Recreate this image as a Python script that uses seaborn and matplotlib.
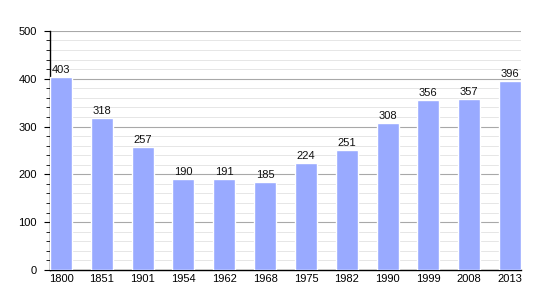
import matplotlib
matplotlib.use("Agg")
import matplotlib.pyplot as plt
import seaborn as sns
import pandas as pd
from matplotlib.ticker import MultipleLocator

years = ["1800", "1851", "1901", "1954", "1962", "1968", "1975", "1982", "1990", "1999", "2008", "2013"]
population = [403, 318, 257, 190, 191, 185, 224, 251, 308, 356, 357, 396]

sns.set_theme(style="white")
plt.rcParams['font.family'] = ['Liberation Sans', 'DejaVu Sans']

df = pd.DataFrame({"year": years, "pop": population})

fig = plt.figure(figsize=(5.5, 3.0), dpi=100)
ax = fig.add_axes([0.0909, 0.1, 0.8564, 0.797])

sns.barplot(data=df, x="year", y="pop", color="#99aaff", saturation=1,
            width=0.54, ax=ax, zorder=3)

for i, v in enumerate(population):
    ax.text(i, v + 4, str(v), ha="center", va="bottom", fontsize=8, color="#111111", zorder=4)

ax.set_ylim(0, 500)
ax.set_xlim(-0.27, 11.27)
ax.yaxis.set_major_locator(MultipleLocator(100))
ax.yaxis.set_minor_locator(MultipleLocator(20))
ax.grid(which="major", axis="y", color="#a8a8a8", linewidth=0.8, zorder=0)
ax.grid(which="minor", axis="y", color="#e2e2e2", linewidth=0.6, zorder=0)
ax.set_axisbelow(True)

for s in ["top", "right"]:
    ax.spines[s].set_visible(False)
for s in ["left", "bottom"]:
    ax.spines[s].set_color("black")
    ax.spines[s].set_linewidth(1.0)

ax.tick_params(axis="y", which="major", direction="out", length=4.5, width=0.8, labelsize=8, left=True, colors="black", pad=5)
ax.tick_params(axis="y", which="minor", direction="out", length=3, width=0.6, left=True, colors="black")
ax.tick_params(axis="x", length=0, labelsize=8, colors="black", pad=3)
ax.set_xlabel("")
ax.set_ylabel("")

fig.savefig("out.png", dpi=100)
